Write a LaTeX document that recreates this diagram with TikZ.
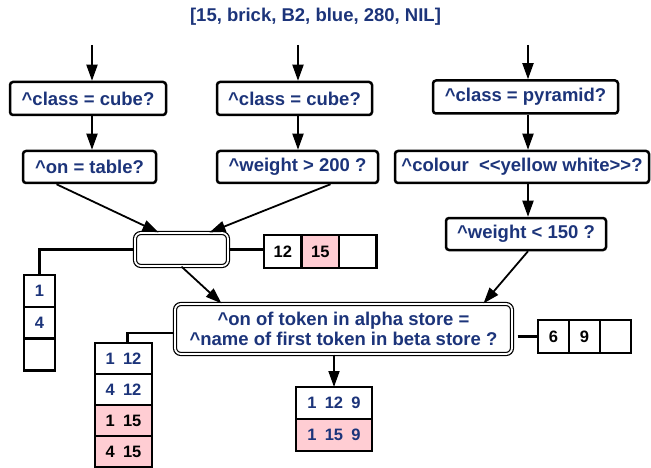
\documentclass[tikz,border=0pt]{standalone}
\usepackage{fontspec}
\setmainfont{Liberation Sans}
\usetikzlibrary{arrows.meta,positioning}
\definecolor{rtnavy}{RGB}{28,52,122}
\definecolor{rtpink}{RGB}{255,205,211}
\tikzset{
    cond/.style={
        draw=black,line width=2.5pt,rounded corners=3pt,fill=white,
        inner sep=0pt,minimum height=33pt,align=center,
        text=rtnavy,font=\fontsize{18.5}{20}\selectfont\bfseries
    },
    joinbox/.style={
        draw=black,line width=1.2pt,double,double distance=1.8pt,
        rounded corners=6pt,fill=white,inner sep=0pt,align=center,
        text=rtnavy,font=\fontsize{18.5}{19.5}\selectfont\bfseries
    },
    cell/.style={
        draw=black,line width=2.5pt,fill=#1,inner sep=0pt,outer sep=0pt,
        font=\fontsize{16.5}{18}\selectfont\bfseries
    },
    cell/.default=white,
    arrow/.style={
        -{Triangle[length=16pt,width=11pt]},line width=1.8pt,draw=black
    },
    link/.style={line width=2.2pt,draw=black}
}

\begin{document}
\begin{tikzpicture}[x=1pt,y=-1pt]
\useasboundingbox (0,0) rectangle (651,468);

\node[text=rtnavy,font=\fontsize{18.5}{20}\selectfont\bfseries]
(wme) at (315.5,17)
{[15, brick, B2, blue, 280, NIL]};

\coordinate (in1) at (92,45);
\coordinate (in2) at (298,45);
\coordinate (in3) at (528,45);

% first tests
\node[cond,minimum width=156pt] (c1) at (88,98.5)
{\textasciicircum class = cube?};
\node[cond,minimum width=155pt] (c2) at (294.5,98.5)
{\textasciicircum class = cube?};
\node[cond,minimum width=185pt] (c3) at (525.5,97)
{\textasciicircum class = pyramid?};

\node[cond,minimum width=133pt,minimum height=32pt] (t1) at (89.5,167)
{\textasciicircum on = table?};
\node[cond,minimum width=161pt,minimum height=32pt] (t2) at (297.5,167)
{\textasciicircum weight > 200 ?};
\node[cond,minimum width=254pt,minimum height=32pt] (t3) at (522,167)
{\textasciicircum colour\ \ <{}<yellow white>{}>?};
\node[cond,minimum width=160pt,minimum height=32pt] (t4) at (526,234)
{\textasciicircum weight < 150 ?};

% join nodes
\node[joinbox,minimum width=93pt,minimum height=33pt] (join) at (181.5,249.5) {};
\node[joinbox,minimum width=337pt,minimum height=50pt] (test) at (343.5,329)
{\textasciicircum on of token in alpha store =\\
\textasciicircum name of first token in beta store ?};

% token stores
\node[cell,minimum width=37.5pt,minimum height=33pt] (r1a) at (282.75,251.5) {12};
\node[cell=rtpink,minimum width=37.5pt,minimum height=33pt,right=0pt of r1a] (r1b) {15};
\node[cell,minimum width=37.5pt,minimum height=33pt,right=0pt of r1b] (r1c) {};

\node[cell,minimum width=31pt,minimum height=31.7pt,text=rtnavy] (s1a) at (39.5,291) {1};
\node[cell,minimum width=31pt,minimum height=31.7pt,text=rtnavy,below=0pt of s1a] (s1b) {4};
\node[cell,minimum width=31pt,minimum height=31.7pt,below=0pt of s1b] (s1c) {};

\node[cell,minimum width=31pt,minimum height=33pt] (r2a) at (553.5,336.5) {6};
\node[cell,minimum width=31pt,minimum height=33pt,right=0pt of r2a] (r2b) {9};
\node[cell,minimum width=31pt,minimum height=33pt,right=0pt of r2b] (r2c) {};

\node[cell,minimum width=57pt,minimum height=31pt,text=rtnavy] (s2a) at (123.5,358.5)
{1\hspace{0.5em}12};
\node[cell,minimum width=57pt,minimum height=31pt,text=rtnavy,below=0pt of s2a] (s2b)
{4\hspace{0.5em}12};
\node[cell=rtpink,minimum width=57pt,minimum height=31pt,below=0pt of s2b] (s2c)
{1\hspace{0.5em}15};
\node[cell=rtpink,minimum width=57pt,minimum height=31pt,below=0pt of s2c] (s2d)
{4\hspace{0.5em}15};

\node[cell,minimum width=76pt,minimum height=32pt,text=rtnavy] (s3a) at (334,403)
{1\hspace{0.5em}12\hspace{0.5em}9};
\node[cell=rtpink,minimum width=76pt,minimum height=32pt,text=rtnavy,below=0pt of s3a] (s3b)
{1\hspace{0.5em}15\hspace{0.5em}9};

% arrows
\draw[arrow](in1)--(in1 |- c1.north);
\draw[arrow](in1 |- c1.south)--(in1 |- t1.north);
\draw[arrow](in2)--(in2 |- c2.north);
\draw[arrow](in2 |- c2.south)--(in2 |- t2.north);
\draw[arrow](in3)--(in3 |- c3.north);
\draw[arrow](in3 |- c3.south)--(in3 |- t3.north);
\draw[arrow](in3 |- t3.south)--(in3 |- t4.north);

\draw[arrow]([xshift=-33pt]t1.south)--([xshift=-23pt]join.north);
\draw[arrow]([xshift=33pt]t2.south)--([xshift=28pt]join.north);
\draw[arrow](join.south)--([xshift=-122pt]test.north);
\draw[arrow]([xshift=2pt]t4.south)--([xshift=140pt]test.north);
\draw[arrow](s3a.north |- test.south)--(s3a.north);

% links to stores
\draw[link](join.east)--(join.east -| r1a.west);
\draw[link](join.west)-|(s1a.north);
\draw[link]([xshift=5pt]r2a.west -| test.east)--(r2a.west);
\draw[link]([yshift=-4pt]test.west)-|([xshift=4pt]s2a.north);

\end{tikzpicture}
\end{document}
